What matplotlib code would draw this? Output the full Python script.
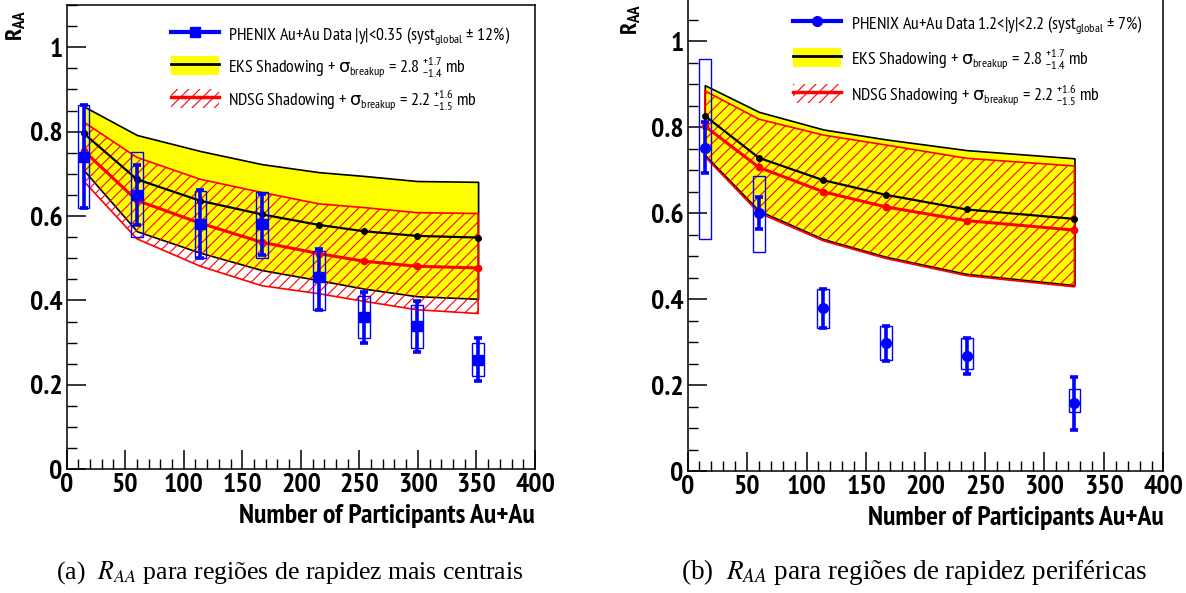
import numpy as np
import matplotlib.pyplot as plt
from matplotlib import font_manager
from matplotlib.patches import Patch
from matplotlib.lines import Line2D
from matplotlib.ticker import MultipleLocator, FuncFormatter


def pick_narrow_font():
    # want a Helvetica-narrow look with a real bold face
    fonts = font_manager.fontManager.ttflist
    for name in ['Liberation Sans Narrow', 'Nimbus Sans Narrow', 'Arial Narrow',
                 'Archivo Narrow', 'PT Sans Narrow', 'Roboto Condensed',
                 'Asap Condensed']:
        weights = {f.weight for f in fonts if f.name == name}
        if weights and max(weights) >= 700 and min(weights) <= 400:
            return name
    return 'Liberation Sans'


sans = pick_narrow_font()
plt.rcParams['font.family'] = [sans, 'DejaVu Sans']
plt.rcParams['mathtext.fontset'] = 'custom'
plt.rcParams['mathtext.rm'] = sans
plt.rcParams['mathtext.it'] = 'DejaVu Sans'   # only used for the sigma
plt.rcParams['mathtext.bf'] = sans + ':bold'
plt.rcParams['hatch.linewidth'] = 0.8

# ---- mid rapidity |y|<0.35 ----
npart_mid = [14.5, 60.0, 114.2, 166.6, 215.3, 253.9, 299.0, 351.4]
raa_mid = [0.74, 0.65, 0.58, 0.58, 0.455, 0.36, 0.34, 0.26]
stat_lo_mid = [0.62, 0.578, 0.50, 0.507, 0.378, 0.30, 0.279, 0.21]
stat_hi_mid = [0.862, 0.722, 0.662, 0.652, 0.522, 0.42, 0.398, 0.312]
syst_lo_mid = [0.62, 0.55, 0.50, 0.50, 0.378, 0.311, 0.287, 0.22]
syst_hi_mid = [0.862, 0.751, 0.659, 0.657, 0.517, 0.41, 0.39, 0.30]

eks_mid = [0.796, 0.687, 0.636, 0.604, 0.579, 0.564, 0.553, 0.549]
eks_hi_mid = [0.86, 0.792, 0.754, 0.723, 0.704, 0.695, 0.683, 0.681]
eks_lo_mid = [0.709, 0.564, 0.513, 0.472, 0.448, 0.428, 0.41, 0.404]
ndsg_mid = [0.755, 0.637, 0.583, 0.538, 0.511, 0.493, 0.481, 0.477]
ndsg_hi_mid = [0.823, 0.739, 0.687, 0.656, 0.629, 0.62, 0.608, 0.606]
ndsg_lo_mid = [0.683, 0.546, 0.481, 0.435, 0.416, 0.398, 0.378, 0.369]

# ---- forward rapidity 1.2<|y|<2.2 ----
npart_fwd = [14.5, 60.0, 114.2, 166.6, 234.6, 325.2]
raa_fwd = [0.751, 0.601, 0.379, 0.299, 0.268, 0.158]
stat_lo_fwd = [0.693, 0.563, 0.334, 0.257, 0.226, 0.096]
stat_hi_fwd = [0.812, 0.637, 0.424, 0.339, 0.311, 0.22]
syst_lo_fwd = [0.54, 0.511, 0.333, 0.26, 0.237, 0.137]
syst_hi_fwd = [0.96, 0.687, 0.425, 0.339, 0.31, 0.192]

eks_fwd = [0.827, 0.729, 0.677, 0.643, 0.609, 0.587]
eks_hi_fwd = [0.898, 0.836, 0.795, 0.772, 0.747, 0.728]
eks_lo_fwd = [0.736, 0.606, 0.540, 0.499, 0.459, 0.433]
ndsg_fwd = [0.803, 0.707, 0.650, 0.615, 0.583, 0.561]
ndsg_hi_fwd = [0.885, 0.819, 0.782, 0.759, 0.728, 0.710]
ndsg_lo_fwd = [0.732, 0.601, 0.536, 0.495, 0.455, 0.429]

label_mid = r'PHENIX Au+Au Data |y|<0.35 (syst$_{\mathrm{global}}$ ± 12%)'
label_fwd = r'PHENIX Au+Au Data 1.2<|y|<2.2 (syst$_{\mathrm{global}}$ ± 7%)'
label_eks = r'EKS Shadowing + $\sigma_{\mathrm{breakup}}$ = 2.8 $^{+1.7}_{-1.4}$ mb'
label_ndsg = r'NDSG Shadowing + $\sigma_{\mathrm{breakup}}$ = 2.2 $^{+1.6}_{-1.5}$ mb'

caption_a = r'(a)  $R_{AA}$ para regiões de rapidez mais centrais'
caption_b = r'(b)  $R_{AA}$ para regiões de rapidez periféricas'


def draw_panel(ax, npart, raa, stat_lo, stat_hi, syst_lo, syst_hi,
               eks, eks_lo, eks_hi, ndsg, ndsg_lo, ndsg_hi, marker, data_label,
               legend_anchor, legend_spacing):
    npart = np.array(npart)
    raa = np.array(raa)

    # theory bands
    ax.fill_between(npart, eks_lo, eks_hi, facecolor='yellow', edgecolor='black',
                    linewidth=1.2, zorder=1)
    ax.fill_between(npart, ndsg_lo, ndsg_hi, facecolor='none', edgecolor='red',
                    hatch='///', linewidth=1.2, zorder=2)
    ax.plot(npart, eks, color='black', lw=1.6, marker='o', ms=4, zorder=3)
    ax.plot(npart, ndsg, color='red', lw=2.2, marker='o', ms=4.5, zorder=3)

    # data: syst boxes + stat errors
    syst_lo = np.array(syst_lo)
    syst_hi = np.array(syst_hi)
    ax.bar(npart, syst_hi - syst_lo, bottom=syst_lo, width=10, fill=False,
           edgecolor='blue', linewidth=1.0, zorder=4)
    yerr = [raa - np.array(stat_lo), np.array(stat_hi) - raa]
    ax.errorbar(npart, raa, yerr=yerr, fmt=marker, color='blue', ms=7,
                elinewidth=2.6, capsize=3, capthick=2.6, zorder=5)

    ax.set_xlim(0, 400)
    ax.set_ylim(0, 1.1)
    ax.xaxis.set_major_locator(MultipleLocator(50))
    ax.xaxis.set_minor_locator(MultipleLocator(10))
    ax.yaxis.set_major_locator(MultipleLocator(0.2))
    ax.yaxis.set_minor_locator(MultipleLocator(0.05))
    ax.yaxis.set_major_formatter(FuncFormatter(lambda v, p: '%g' % round(v, 2)))
    ax.tick_params(which='both', direction='in', top=False, right=False)
    ax.tick_params(which='major', length=14, width=1.1, labelsize=20, pad=3)
    ax.tick_params(which='minor', length=7, width=1.0)
    for lab in ax.get_xticklabels() + ax.get_yticklabels():
        lab.set_fontweight('bold')
    for sp in ax.spines.values():
        sp.set_linewidth(1.1)

    ax.set_xlabel('Number of Participants Au+Au', loc='right', fontsize=20,
                  fontweight='bold')
    ax.set_ylabel(r'$\mathbf{R_{AA}}$', loc='top', fontsize=17.5)

    handles = [
        Line2D([], [], color='blue', lw=3, marker=marker, ms=7),
        (Patch(facecolor='yellow', edgecolor='none'), Line2D([], [], color='black', lw=2)),
        (Patch(facecolor='none', edgecolor='red', hatch='///', lw=0),
         Line2D([], [], color='red', lw=2.5)),
    ]
    ax.legend(handles, [data_label, label_eks, label_ndsg], frameon=False,
              fontsize=12.8, handlelength=2.7, handleheight=1.3,
              labelspacing=legend_spacing, handletextpad=0.55, borderpad=0,
              borderaxespad=0, loc='upper left', bbox_to_anchor=legend_anchor)


fig = plt.figure(figsize=(11.86, 5.93), dpi=100)
ax1 = fig.add_axes([0.0562, 0.2086, 0.3949, 0.7830])
ax2 = fig.add_axes([0.5797, 0.2052, 0.4013, 0.7976])

draw_panel(ax1, npart_mid, raa_mid, stat_lo_mid, stat_hi_mid, syst_lo_mid, syst_hi_mid,
           eks_mid, eks_lo_mid, eks_hi_mid, ndsg_mid, ndsg_lo_mid, ndsg_hi_mid,
           's', label_mid, (0.222, 0.958), 0.45)
draw_panel(ax2, npart_fwd, raa_fwd, stat_lo_fwd, stat_hi_fwd, syst_lo_fwd, syst_hi_fwd,
           eks_fwd, eks_lo_fwd, eks_hi_fwd, ndsg_fwd, ndsg_lo_fwd, ndsg_hi_fwd,
           'o', label_fwd, (0.2216, 0.968), 0.62)

ax1.xaxis.set_label_coords(1.0, -0.074)
ax1.yaxis.set_label_coords(-0.083, 0.99)
ax2.xaxis.set_label_coords(1.0, -0.074)
ax2.yaxis.set_label_coords(-0.093, 0.99)

fig.text(290 / 1186, 0.035, caption_a, family='Liberation Serif',
         math_fontfamily='stix', fontsize=18.5, ha='center', va='center')
fig.text(914 / 1186, 0.035, caption_b, family='Liberation Serif',
         math_fontfamily='stix', fontsize=19.5, ha='center', va='center')

fig.savefig('out.png', dpi=100, facecolor='white')
